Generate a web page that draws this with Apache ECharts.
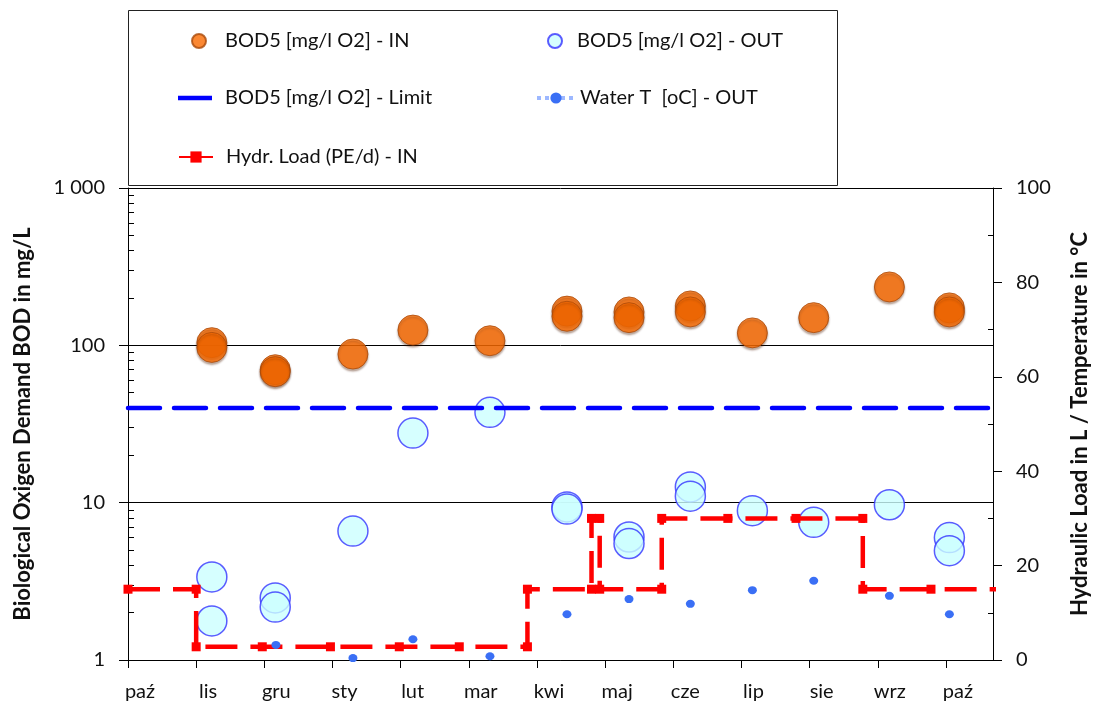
<!DOCTYPE html>
<html>
<head>
<meta charset="utf-8">
<script src="https://cdn.jsdelivr.net/npm/echarts@6/dist/echarts.min.js"></script>
<style>
html,body{margin:0;padding:0;background:#fff;}
#chart{width:1099px;height:709px;}
</style>
</head>
<body>
<div id="chart"></div>
<script>
// ---- data (x = months since 1 Oct) ----
const monthLabels = ['paź','lis','gru','sty','lut','mar','kwi','maj','cze','lip','sie','wrz','paź'];
const monthTicks = [0,1,2,3,4,5,6,7,8,9,10,11,12];
const xMax = 12.69;

const inX   = [1.23,1.23,2.16,2.16,3.30,4.18,5.31,6.44,6.44,7.35,7.35,8.25,8.25,9.16,10.06,11.17,12.05,12.05];
const inVal = [104, 97, 70, 68, 88, 125, 107, 165, 153, 163, 150, 178, 163, 120, 150, 235, 173, 163];

const outX   = [1.23,1.23,2.16,2.16,3.30,4.18,5.31,6.44,6.44,7.35,7.35,8.25,8.25,9.16,10.06,11.17,12.05,12.05];
const outVal = [3.37,1.77,2.48,2.17,6.6,27.7,37.5,9.4,9.1,6.05,5.5,12.6,11.0,8.9,7.5,9.7,6.0,4.95];

const limitVal = 40;

const tempX   = [2.17,3.30,4.18,5.31,6.44,7.35,8.25,9.16,10.06,11.17,12.05];
const tempVal = [3.2, 0.4, 4.4, 0.8, 9.7, 12.9, 11.9, 14.8, 16.8, 13.6, 9.7];

const hydrX   = [0,1.0,1.0,1.97,2.97,3.98,4.86,5.86,5.86,6.80,6.80,6.92,6.92,7.83,7.83,8.80,9.80,10.78,10.78,11.78,12.9];
const hydrVal = [15,15,2.8,2.8,2.8,2.8,2.8,2.8,15,15,30,30,15,15,30,30,30,30,15,15,15];

const leftTickLabels = {1:'1',10:'10',100:'100',1000:'1 000'};
const rightMinorTicks = [10,30,50,70,90];
const logMinorMultipliers = [2,3,4,5,6,7,8,9];

const names = {
  bin:'BOD5 [mg/l O2] - IN',
  bout:'BOD5 [mg/l O2] - OUT',
  lim:'BOD5 [mg/l O2] - Limit',
  temp:'Water T  [oC] - OUT',
  hydr:'Hydr. Load (PE/d) - IN'
};

// ---- build ----
const zip = (xs, ys) => xs.map((x,i)=>[x, ys[i]]);
const logMinorPos = [];
[0,1,2].forEach(d => logMinorMultipliers.forEach(m => logMinorPos.push(d + Math.log10(m))));

const FONT = 'Lato';
const txt = {fontFamily: FONT, fontSize: 20, color: '#111'};
const legText = {fontFamily:FONT, fontSize:20, color:'#111'};
const legendBase = {orient:'horizontal', padding:0, itemHeight:14, selectedMode:false, textStyle:legText};
const mk = (o) => Object.assign({}, legendBase, o);

const chart = echarts.init(document.getElementById('chart'), null, {renderer:'canvas'});
chart.setOption({
  animation:false,
  backgroundColor:'#fff',
  graphic:[{
    type:'rect', z:0, silent:true,
    shape:{x:128.5, y:10.5, width:709, height:175},
    style:{fill:'none', stroke:'#222', lineWidth:1}
  }],
  legend:[
    mk({left:191, top:31, itemWidth:34, data:[{name:names.bin, icon:'circle'}],
      textStyle:Object.assign({}, legText, {padding:[0,0,0,4]})}),
    mk({left:547, top:31, itemWidth:34, data:[{name:names.bout, icon:'circle'}]}),
    mk({left:178, top:88, itemWidth:34,
      data:[{name:names.lim, icon:'path://M0 0H34V4.5H0Z'}],
      textStyle:Object.assign({}, legText, {padding:[0,0,0,8]})}),
    mk({left:535, top:88, itemWidth:38,
      data:[{name:names.temp, lineStyle:{type:'dotted', color:'#9db8ff', width:4, opacity:1}}]}),
    mk({left:178, top:147, itemWidth:34,
      data:[{name:names.hydr, lineStyle:{type:'solid'}}],
      textStyle:Object.assign({}, legText, {padding:[0,0,0,8]})})
  ],
  grid:{left:128, right:94, top:188, bottom:49, containLabel:false},
  xAxis:{
    type:'value', min:0, max:xMax, interval:1,
    axisLine:{show:true, onZero:false, lineStyle:{color:'#000', width:1}},
    axisTick:{show:true, length:8, customValues:monthTicks, lineStyle:{color:'#000'}},
    axisLabel:Object.assign({}, txt, {customValues:monthTicks, margin:22, padding:[0,0,0,24],
      formatter:v => monthLabels[Math.round(v)]}),
    splitLine:{show:false}
  },
  yAxis:[
    {
      type:'log', logBase:10, min:1, max:1000, position:'left',
      name:'Biological Oxigen Demand BOD in mg/L', nameLocation:'middle', nameRotate:90, nameGap:94,
      nameTextStyle:{fontFamily:FONT, fontSize:22, fontWeight:'bold', color:'#111'},
      axisLine:{show:true, lineStyle:{color:'#000', width:1}},
      axisTick:{show:true, inside:false, length:9, lineStyle:{color:'#000'}},
      axisLabel:Object.assign({}, txt, {margin:23, formatter:v => leftTickLabels[Math.round(v)] || ''}),
      splitLine:{show:true, lineStyle:{color:'#000', width:1}},
      minorTick:{show:false}
    },
    {
      type:'value', min:0, max:100, interval:20, position:'right',
      name:'Hydraulic Load in L / Temperature in °C', nameLocation:'middle', nameRotate:90, nameGap:76,
      nameTextStyle:{fontFamily:FONT, fontSize:22, fontWeight:'bold', color:'#111'},
      axisLine:{show:true, lineStyle:{color:'#000', width:1}},
      axisTick:{show:true, inside:false, length:9, lineStyle:{color:'#000'}},
      axisLabel:Object.assign({}, txt, {margin:23}),
      splitLine:{show:false}
    },
    {
      type:'value', min:0, max:3, position:'left',
      axisLine:{show:false}, axisLabel:{show:false}, splitLine:{show:false},
      axisTick:{show:true, inside:true, length:6, customValues:logMinorPos, lineStyle:{color:'#000'}}
    },
    {
      type:'value', min:0, max:100, position:'right',
      axisLine:{show:false}, axisLabel:{show:false}, splitLine:{show:false},
      axisTick:{show:true, inside:true, length:5, customValues:rightMinorTicks, lineStyle:{color:'#000'}}
    }
  ],
  series:[
    {
      name:names.lim, type:'line', yAxisIndex:0, symbol:'none', silent:true,
      data:[[0, limitVal],[xMax, limitVal]],
      lineStyle:{color:'#0000ff', width:4.5, type:[32,14], cap:'round'},
      itemStyle:{color:'#0000ff'}
    },
    {
      name:names.bin, type:'scatter', yAxisIndex:0, symbol:'circle', symbolSize:30, silent:true,
      data:zip(inX, inVal),
      itemStyle:{color:'#fa6a00', borderColor:'#a94a0a', borderWidth:1,
        shadowBlur:2, shadowOffsetY:2, shadowColor:'rgba(80,30,0,0.45)'}
    },
    {
      name:names.bout, type:'scatter', yAxisIndex:0, symbol:'circle', symbolSize:30, silent:true,
      data:zip(outX, outVal),
      itemStyle:{color:'#ccffff', borderColor:'#3333ff', borderWidth:1.5}
    },
    {
      name:names.hydr, type:'line', yAxisIndex:1, symbol:'rect', symbolSize:9, showSymbol:true, clip:true, silent:true,
      data:zip(hydrX, hydrVal),
      lineStyle:{color:'#ff0000', width:4.5, type:[32,13]},
      itemStyle:{color:'#ff0000'}
    },
    {
      name:names.temp, type:'line', yAxisIndex:1, symbol:'circle', symbolSize:[9,8], showSymbol:true, silent:true,
      data:zip(tempX, tempVal),
      lineStyle:{width:0, opacity:0, color:'#9db8ff'},
      itemStyle:{color:'#3a6ff5'}
    }
  ]
});
</script>
</body>
</html>
